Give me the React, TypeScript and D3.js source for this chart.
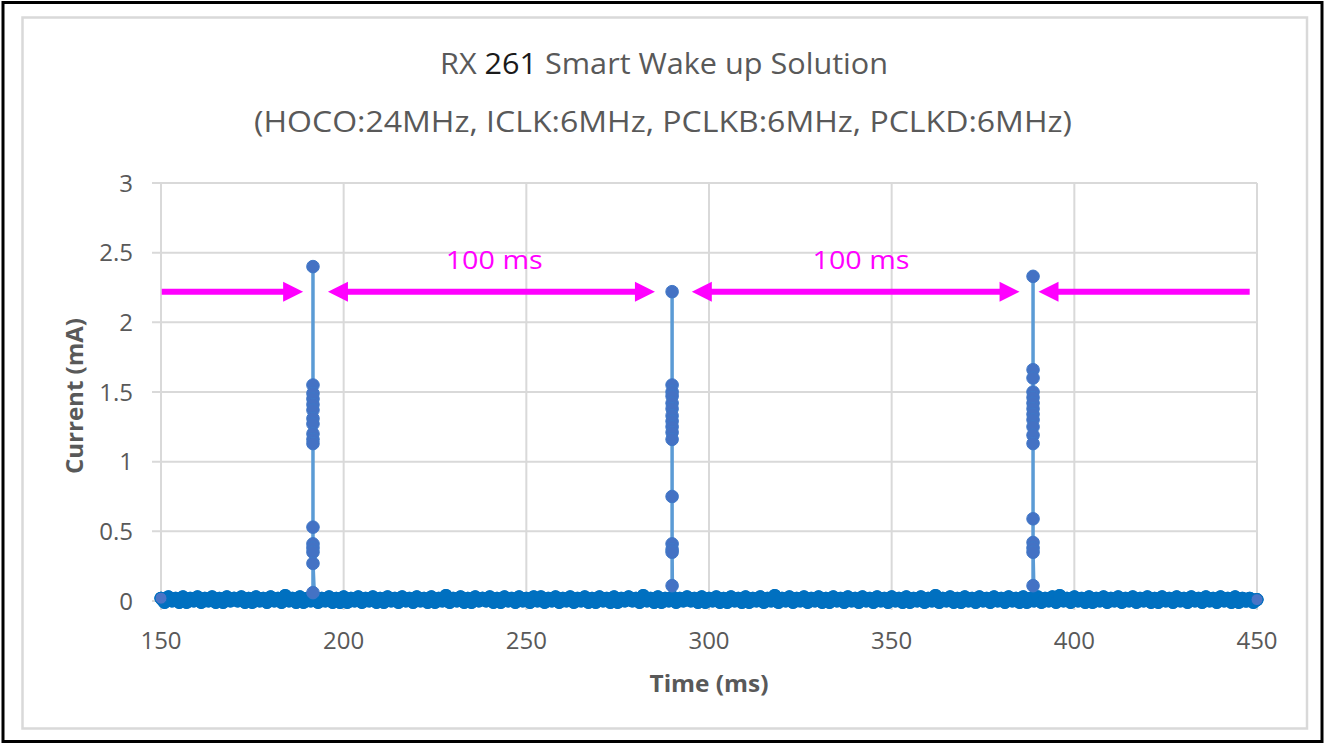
import React from "react";
import * as d3 from "d3";

// ---------- data ----------
const xTicks = [150, 200, 250, 300, 350, 400, 450];
const yTicks = [0, 0.5, 1, 1.5, 2, 2.5, 3];

// baseline current (mA), sampled every 1 ms from 150 ms to 450 ms (noise floor)
const baselineStartMs = 150;
const baselineStepMs = 1;
const baselineCurrent = [
  0.02, -0.01, 0.03, 0.00, 0.02, -0.01, 0.03, -0.01, 0.02, 0.00,
  0.03, -0.01, 0.02, 0.00, 0.03, -0.01, 0.02, -0.01, 0.03, 0.00,
  0.02, 0.00, 0.03, -0.01, 0.02, -0.01, 0.03, 0.00, 0.02, -0.01,
  0.03, 0.00, 0.02, -0.01, 0.04, 0.00, 0.02, -0.01, 0.03, -0.01,
  0.02, 0.00, 0.03, -0.01, 0.02, 0.00, 0.03, -0.01, 0.02, -0.01,
  0.03, -0.01, 0.02, 0.00, 0.03, -0.01, 0.02, 0.00, 0.03, -0.01,
  0.02, -0.01, 0.03, 0.00, 0.02, -0.01, 0.03, 0.00, 0.02, -0.01,
  0.03, 0.00, 0.02, -0.01, 0.03, -0.01, 0.02, 0.00, 0.04, -0.01,
  0.02, 0.00, 0.03, -0.01, 0.02, -0.01, 0.03, 0.00, 0.02, 0.00,
  0.03, -0.01, 0.02, -0.01, 0.03, 0.00, 0.02, -0.01, 0.03, 0.00,
  0.02, -0.01, 0.03, 0.00, 0.03, -0.01, 0.02, 0.00, 0.03, -0.01,
  0.02, 0.00, 0.03, -0.01, 0.02, 0.00, 0.03, -0.01, 0.02, -0.01,
  0.03, 0.00, 0.02, -0.01, 0.03, -0.01, 0.02, 0.00, 0.03, 0.00,
  0.02, -0.01, 0.04, 0.00, 0.02, -0.01, 0.03, -0.01, 0.02, 0.00,
  0.03, -0.01, 0.02, 0.00, 0.03, 0.00, 0.02, -0.01, 0.03, -0.01,
  0.02, 0.00, 0.03, -0.01, 0.02, -0.01, 0.03, 0.00, 0.02, -0.01,
  0.03, -0.01, 0.02, 0.00, 0.03, -0.01, 0.02, 0.00, 0.04, -0.01,
  0.02, 0.00, 0.03, -0.01, 0.02, 0.00, 0.03, -0.01, 0.02, 0.00,
  0.03, -0.01, 0.02, -0.01, 0.03, 0.00, 0.02, -0.01, 0.03, 0.00,
  0.02, -0.01, 0.03, 0.00, 0.02, -0.01, 0.03, 0.00, 0.02, -0.01,
  0.03, 0.00, 0.02, -0.01, 0.03, -0.01, 0.02, 0.00, 0.03, -0.01,
  0.02, 0.00, 0.04, -0.01, 0.02, 0.00, 0.03, -0.01, 0.02, -0.01,
  0.03, 0.00, 0.02, -0.01, 0.03, 0.00, 0.02, -0.01, 0.03, 0.00,
  0.02, -0.01, 0.03, 0.00, 0.02, -0.01, 0.03, -0.01, 0.02, 0.00,
  0.03, -0.01, 0.02, 0.00, 0.03, -0.01, 0.04, 0.00, 0.02, -0.01,
  0.03, 0.00, 0.02, -0.01, 0.03, -0.01, 0.02, 0.00, 0.03, -0.01,
  0.02, 0.00, 0.03, -0.01, 0.02, 0.00, 0.03, -0.01, 0.02, 0.00,
  0.03, -0.01, 0.02, -0.01, 0.03, 0.00, 0.02, -0.01, 0.03, 0.00,
  0.02, -0.01, 0.03, 0.00, 0.02, -0.01, 0.03, 0.00, 0.02, -0.01,
  0.03, 0.00, 0.02, -0.01, 0.03, -0.01, 0.02, 0.00, 0.02, -0.01,
  0.01,
];

// wake-up spikes (ms) and the currents sampled during each one (mA)
const spikeTimes = [191.6, 289.9, 388.7];
const spike1Current = [0.06, 2.4, 1.55, 1.49, 1.45, 1.41, 1.37, 1.31, 1.27, 1.2, 1.16, 1.13, 0.53, 0.41, 0.38, 0.35, 0.27];
const spike2Current = [0.11, 2.22, 1.55, 1.5, 1.47, 1.42, 1.38, 1.33, 1.29, 1.25, 1.21, 1.16, 0.75, 0.41, 0.37, 0.35];
const spike3Current = [0.11, 2.33, 1.66, 1.6, 1.5, 1.46, 1.42, 1.38, 1.34, 1.3, 1.25, 1.19, 1.13, 0.59, 0.42, 0.38, 0.35];

// annotation arrows (data coordinates)
const arrowY = 2.22;
const arrowFrom = [150.2, 195.7, 295.3, 448.0];
const arrowTo = [188.9, 285.2, 385.0, 390.2];
const arrowDoubleHeaded = [false, true, true, false];
const intervalLabels = ["100 ms", "100 ms"];
const intervalLabelX = [241.2, 341.6];
const intervalLabelY = 2.45;

const titleParts = ["RX ", "261", " Smart Wake up Solution"];
const subtitle = "(HOCO:24MHz, ICLK:6MHz, PCLKB:6MHz, PCLKD:6MHz)";
const xTitle = "Time (ms)";
const yTitle = "Current (mA)";

// ---------- layout ----------
const W = 1327;
const H = 744;
const FONT = "'Open Sans', 'Noto Sans', sans-serif";
const GRAY = "#595959";
const MAGENTA = "#FF00FF";

export default function App() {
  const x = d3.scaleLinear().domain([150, 450]).range([161, 1257]);
  const y = d3.scaleLinear().domain([0, 3]).range([601, 183]);

  type P = { t: number; v: number; spike: boolean };
  const pts: P[] = baselineCurrent.map((v, i) => ({ t: baselineStartMs + i * baselineStepMs, v, spike: false }));
  const spikes = [spike1Current, spike2Current, spike3Current];
  spikes.forEach((arr, k) => {
    arr.forEach((v) => pts.push({ t: spikeTimes[k], v, spike: true }));
  });
  const series = pts
    .map((p, i) => ({ ...p, i }))
    .sort((a, b) => (a.t - b.t) || (a.i - b.i));

  const line = d3
    .line<P>()
    .x((d) => x(d.t))
    .y((d) => y(d.v));

  const baselinePts = series.filter((d) => !d.spike);
  const spikePts = series.filter((d) => d.spike);

  const headLen = 20;
  const headHalf = 10;

  return (
    <svg
      width={W}
      height={H}
      style={{ position: "absolute", left: 0, top: 0, background: "#fff" }}
      fontFamily={FONT}
    >
      <rect x={0} y={0} width={W} height={H} fill="#fff" />
      {/* outer frame */}
      <rect x={3} y={2.5} width={1319} height={739} fill="none" stroke="#000" strokeWidth={3} />
      {/* chart area border */}
      <rect x={22.5} y={17.5} width={1284.5} height={711} fill="none" stroke="#d9d9d9" strokeWidth={2.5} />

      {/* titles */}
      <text x={664} y={74} textAnchor="middle" fontSize={30} fill={GRAY} textLength={448} lengthAdjust="spacingAndGlyphs">
        <tspan>{titleParts[0]}</tspan>
        <tspan fill="#1a1a1a">{titleParts[1]}</tspan>
        <tspan>{titleParts[2]}</tspan>
      </text>
      <text x={663} y={132} textAnchor="middle" fontSize={30} fill={GRAY} textLength={818} lengthAdjust="spacingAndGlyphs">
        {subtitle}
      </text>

      {/* gridlines */}
      {yTicks.map((t) => (
        <line key={"gy" + t} x1={152} x2={x(450)} y1={y(t)} y2={y(t)} stroke="#d9d9d9" strokeWidth={2} />
      ))}
      {xTicks.map((t) => (
        <line key={"gx" + t} x1={x(t)} x2={x(t)} y1={y(3)} y2={610} stroke="#d9d9d9" strokeWidth={2} />
      ))}

      {/* tick labels */}
      {yTicks.map((t) => (
        <text key={"ly" + t} x={133} y={y(t)} dy="0.36em" textAnchor="end" fontSize={24} fill={GRAY}>
          {d3.format("~g")(t)}
        </text>
      ))}
      {xTicks.map((t) => (
        <text key={"lx" + t} x={x(t)} y={649} textAnchor="middle" fontSize={24} fill={GRAY}>
          {t}
        </text>
      ))}

      {/* axis titles */}
      <text x={709} y={692} textAnchor="middle" fontSize={24} fontWeight="bold" fill={GRAY} textLength={119} lengthAdjust="spacingAndGlyphs">
        {xTitle}
      </text>
      <text
        transform={`translate(83, ${(y(0) + y(3)) / 2 + 4}) rotate(-90)`}
        textAnchor="middle"
        fontSize={24}
        fontWeight="bold"
        fill={GRAY}
        textLength={156}
        lengthAdjust="spacingAndGlyphs"
      >
        {yTitle}
      </text>

      {/* series line */}
      <path d={line(series) || ""} fill="none" stroke="#5B9BD5" strokeWidth={3.5} strokeLinejoin="round" />

      {/* dense baseline: overlapping markers joined by the line form a solid band */}
      <path
        d={line(baselinePts) || ""}
        fill="none"
        stroke="#0070C0"
        strokeWidth={13}
        strokeLinejoin="round"
        strokeLinecap="round"
      />
      {baselinePts.map((d, i) => (
        <circle key={"b" + i} cx={x(d.t)} cy={y(d.v)} r={6.5} fill="#0070C0" />
      ))}
      {[baselinePts[0], baselinePts[baselinePts.length - 1]].map((d, i) => (
        <circle key={"e" + i} cx={x(d.t)} cy={y(d.v)} r={6} fill="#4a74c6" stroke="#0070C0" strokeWidth={1} />
      ))}
      {spikePts.map((d, i) => (
        <circle key={"s" + i} cx={x(d.t)} cy={y(d.v)} r={6.3} fill="#4472C4" stroke="#3f78c8" strokeWidth={1} />
      ))}

      {/* annotation arrows */}
      {arrowFrom.map((f, i) => {
        const x0 = x(f);
        const x1 = x(arrowTo[i]);
        const yy = y(arrowY);
        const dir = Math.sign(x1 - x0);
        const lineStart = arrowDoubleHeaded[i] ? x0 + dir * (headLen - 2) : x0;
        const lineEnd = x1 - dir * (headLen - 2);
        return (
          <g key={"a" + i}>
            <line x1={lineStart} x2={lineEnd} y1={yy} y2={yy} stroke={MAGENTA} strokeWidth={6} />
            <path
              d={`M${x1},${yy} L${x1 - dir * headLen},${yy - headHalf} L${x1 - dir * headLen},${yy + headHalf} Z`}
              fill={MAGENTA}
            />
            {arrowDoubleHeaded[i] && (
              <path
                d={`M${x0},${yy} L${x0 + dir * headLen},${yy - headHalf} L${x0 + dir * headLen},${yy + headHalf} Z`}
                fill={MAGENTA}
              />
            )}
          </g>
        );
      })}
      {intervalLabels.map((s, i) => (
        <text key={"il" + i} x={x(intervalLabelX[i])} y={y(intervalLabelY) + 9} textAnchor="middle" fontSize={26} fill={MAGENTA} textLength={97} lengthAdjust="spacingAndGlyphs">
          {s}
        </text>
      ))}
    </svg>
  );
}
